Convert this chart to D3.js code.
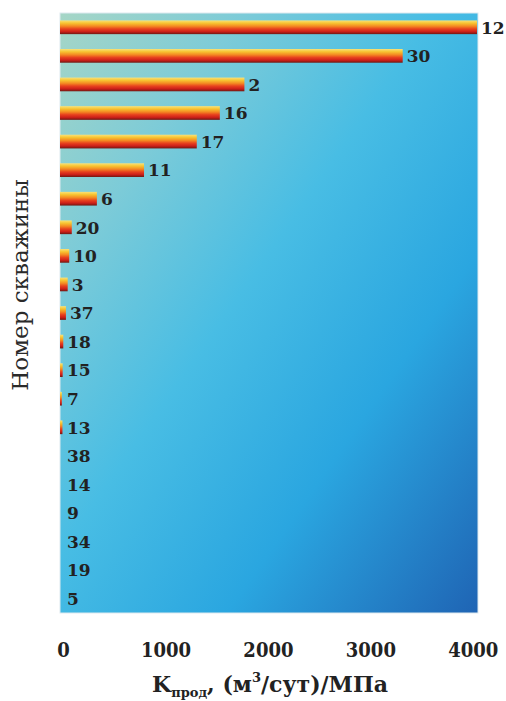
<!DOCTYPE html>
<html>
<head>
<meta charset="utf-8">
<script src="https://cdn.jsdelivr.net/npm/d3@7"></script>
<style>
  html, body { margin: 0; padding: 0; background: #fff; }
  svg { display: block; }
</style>
</head>
<body>
<div id="chart"></div>
<script>
    // well numbers, top to bottom, and productivity index (m3/day)/MPa
    var wells = ["12", "30", "2", "16", "17", "11", "6", "20", "10", "3", "37",
                 "18", "15", "7", "13", "38", "14", "9", "34", "19", "5"];
    var kprod = [4070, 3345, 1800, 1560, 1335, 820, 360, 115, 90, 75, 58,
                 32, 26, 18, 24, 0, 0, 0, 0, 0, 0];
    var xTicks = [0, 1000, 2000, 3000, 4000];

    var width = 506, height = 701;
    var margin = {top: 13, right: 28, bottom: 88, left: 60};
    var plotW = width - margin.left - margin.right,
        plotH = height - margin.top - margin.bottom;

    var svg = d3.select("#chart").append("svg")
        .attr("width", width)
        .attr("height", height);

    var defs = svg.append("defs");

    //------------------------------------------------------------
    // gradients: blue backdrop and fire-coloured bars
    //------------------------------------------------------------
    var bg = defs.append("linearGradient")
        .attr("id", "bgGrad")
        .attr("x1", 0).attr("y1", 0)
        .attr("x2", 1).attr("y2", 1);
    [[0, "#a6d6c6"], [0.22, "#7ccbd8"], [0.45, "#48bde4"],
     [0.7, "#2aa6e0"], [1, "#1f64b4"]].forEach(function (s) {
        bg.append("stop").attr("offset", s[0]).attr("stop-color", s[1]);
    });

    var bar = defs.append("linearGradient")
        .attr("id", "barGrad")
        .attr("x1", 0).attr("y1", 0)
        .attr("x2", 0).attr("y2", 1);
    [[0, "#f9e27a"], [0.2, "#f7c431"], [0.42, "#f48a22"],
     [0.62, "#e8421e"], [0.82, "#cc1f19"], [1, "#701812"]].forEach(function (s) {
        bar.append("stop").attr("offset", s[0]).attr("stop-color", s[1]);
    });

    //------------------------------------------------------------
    // scales
    //------------------------------------------------------------
    var x = d3.scaleLinear()
        .domain([0, 4080])
        .range([margin.left, margin.left + plotW]);

    var y = d3.scaleBand()
        .domain(wells)
        .range([margin.top, margin.top + plotH])
        .paddingInner(0.52)
        .paddingOuter(0.26);

    // backdrop
    svg.append("rect")
        .attr("x", margin.left)
        .attr("y", margin.top)
        .attr("width", plotW)
        .attr("height", plotH)
        .attr("fill", "url(#bgGrad)")
        .attr("stroke", "#dde9ef")
        .attr("stroke-width", 1);

    // bars
    var rows = wells.map(function (w, i) { return {well: w, value: kprod[i]}; });

    svg.append("g").selectAll("rect")
        .data(rows.filter(function (d) { return d.value > 0; }))
        .enter().append("rect")
        .attr("x", x(0))
        .attr("y", function (d) { return y(d.well); })
        .attr("width", function (d) { return Math.max(1.5, x(d.value) - x(0)); })
        .attr("height", y.bandwidth())
        .attr("fill", "url(#barGrad)");

    // well labels at bar ends
    svg.append("g").selectAll("text")
        .data(rows)
        .enter().append("text")
        .attr("x", function (d) { return Math.max(x(d.value) + 4, x(0) + 7); })
        .attr("y", function (d) { return y(d.well) + y.bandwidth() / 2; })
        .attr("dy", "0.37em")
        .attr("font-family", "'DejaVu Serif', serif")
        .attr("font-weight", "bold")
        .attr("font-size", 17)
        .attr("fill", "#222")
        .text(function (d) { return d.well; });

    //------------------------------------------------------------
    // x axis (labels only, no line or ticks)
    //------------------------------------------------------------
    var xAxis = svg.append("g")
        .attr("transform", "translate(0," + (margin.top + plotH) + ")")
        .call(d3.axisBottom(x).tickValues(xTicks).tickSize(0).tickPadding(30)
            .tickFormat(d3.format("d")));
    xAxis.select(".domain").remove();
    xAxis.selectAll("text")
        .attr("dx", 3)
        .attr("font-family", "'DejaVu Serif Condensed', 'DejaVu Serif', serif")
        .attr("font-weight", "bold")
        .attr("font-size", 20)
        .attr("fill", "#222");

    // axis titles
    svg.append("text")
        .attr("transform", "rotate(-90)")
        .attr("x", -285)
        .attr("y", 28)
        .attr("text-anchor", "middle")
        .attr("font-family", "'DejaVu Serif', serif")
        .attr("font-size", 23)
        .attr("fill", "#2a2a2a")
        .text("Номер скважины");

    var xt = svg.append("text")
        .attr("x", 270)
        .attr("y", 692)
        .attr("text-anchor", "middle")
        .attr("font-family", "'DejaVu Serif', serif")
        .attr("font-weight", "bold")
        .attr("font-size", 22)
        .attr("fill", "#222");
    xt.append("tspan").text("K");
    xt.append("tspan").attr("font-size", 13).attr("dy", 5).text("прод");
    xt.append("tspan").attr("dy", -5).text(", (м");
    xt.append("tspan").attr("font-size", 13).attr("dy", -10).text("3");
    xt.append("tspan").attr("dy", 10).text("/сут)/МПа");
</script>
</body>
</html>
